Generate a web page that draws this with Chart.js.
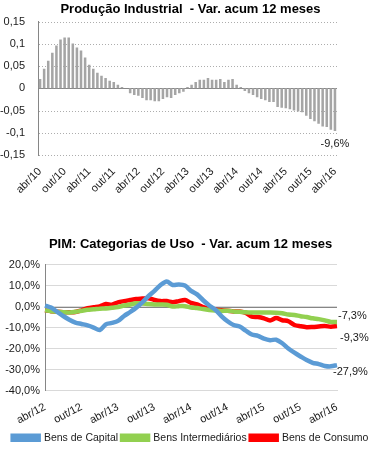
<!DOCTYPE html>
<html><head><meta charset="utf-8">
<script src="https://cdn.jsdelivr.net/npm/chart.js@4.4.1/dist/chart.umd.min.js"></script>
<style>
html,body{margin:0;padding:0;background:#fff;width:381px;height:457px;overflow:hidden}
#c1{position:absolute;left:0;top:0}
#c2{position:absolute;left:0;top:225px}
</style></head><body>
<canvas id="c1" width="381" height="195"></canvas>
<canvas id="c2" width="381" height="232"></canvas>
<script>
// ---------- DATA ----------
const monthNames = ['jan','fev','mar','abr','mai','jun','jul','ago','set','out','nov','dez'];
function monthRange(m0, y0, n){ const out=[]; for(let i=0;i<n;i++){ const m=(m0+i)%12, y=y0+Math.floor((m0+i)/12); out.push(monthNames[m]+'/'+String(y).padStart(2,'0')); } return out; }

// Top chart: abr/10 .. abr/16
const prodCategories = monthRange(3, 10, 73);
const prodValues = [
  0.021,0.044,0.062,0.080,0.096,0.110,0.114,0.114,0.101,0.092,0.085,0.069,
  0.053,0.044,0.035,0.028,0.023,0.017,0.014,0.008,0.003,0.000,-0.011,-0.015,
  -0.017,-0.022,-0.027,-0.027,-0.029,-0.029,-0.024,-0.020,-0.022,-0.015,-0.011,-0.008,
  0.003,0.008,0.014,0.019,0.019,0.023,0.019,0.019,0.021,0.014,0.019,0.021,
  0.008,0.003,-0.006,-0.011,-0.015,-0.020,-0.024,-0.027,-0.031,-0.031,-0.042,-0.044,
  -0.045,-0.047,-0.050,-0.052,-0.054,-0.062,-0.069,-0.074,-0.080,-0.086,-0.087,-0.093,
  -0.096
];
const prodEndLabel = '-9,6%';

// Bottom chart: abr/12 .. abr/16
const pimCategories = monthRange(3, 12, 49);
const bensCapital = [
  0.5,-0.5,-2.5,-4.5,-6.3,-7.6,-8.3,-9.0,-10.0,-11.2,-8.5,-7.8,
  -6.8,-4.5,-2.6,-0.5,2.0,5.0,7.5,10.3,12.0,10.3,10.5,10.0,
  7.5,5.8,3.0,0.5,-1.5,-4.5,-7.0,-8.8,-9.5,-11.5,-13.3,-14.0,
  -15.3,-16.0,-15.8,-17.5,-20.0,-22.0,-23.8,-25.5,-26.8,-27.4,-28.3,-28.5,
  -27.9
];
const bensIntermediarios = [
  -1.8,-2.2,-2.5,-2.7,-2.8,-2.5,-2.0,-1.5,-1.3,-1.0,-0.9,-0.6,
  -0.2,0.5,1.0,1.6,1.5,1.2,1.0,1.0,0.9,0.0,0.2,0.2,
  -0.4,-0.7,-1.2,-1.6,-1.9,-2.1,-2.0,-2.3,-2.5,-2.7,-2.8,-2.8,
  -2.8,-2.8,-2.9,-3.2,-3.8,-4.0,-4.6,-5.0,-5.6,-6.0,-6.6,-7.3,
  -7.3
];
const bensConsumo = [
  -1.8,-2.2,-2.5,-2.7,-2.7,-2.6,-1.8,-0.8,-0.3,0.1,1.2,0.9,
  2.0,2.6,3.1,3.6,3.8,4.0,3.1,2.6,2.6,2.1,2.6,3.1,
  1.8,1.0,-0.3,-1.0,-1.5,-1.8,-2.0,-2.3,-2.4,-3.0,-4.8,-5.0,
  -5.6,-6.6,-5.5,-6.5,-7.0,-8.8,-9.4,-9.8,-9.7,-9.5,-9.3,-9.6,
  -9.3
];
const pimEndLabels = ['-27,9%','-7,3%','-9,3%'];
const seriesNames = ['Bens de Capital','Bens Intermediários','Bens de Consumo'];

// ---------- COMMON ----------
Chart.defaults.font.family = '"Liberation Sans", Arial, sans-serif';
Chart.defaults.color = '#1a1a1a';
Chart.defaults.animation = false;

const zeroLine = {
  id:'zeroLine',
  beforeDatasetsDraw(chart){
    const y = chart.scales.y.getPixelForValue(0), a = chart.chartArea, ctx = chart.ctx;
    ctx.save(); ctx.strokeStyle = '#868686'; ctx.lineWidth = 1;
    ctx.beginPath(); ctx.moveTo(a.left, Math.round(y)+0.5); ctx.lineTo(a.right, Math.round(y)+0.5); ctx.stroke();
    ctx.restore();
  }
};
// dotted horizontal grid (top chart)
const dottedGrid = {
  id:'dottedGrid',
  beforeDatasetsDraw(chart){
    const s = chart.scales.y, a = chart.chartArea, ctx = chart.ctx;
    ctx.save(); ctx.strokeStyle = '#ADADAD'; ctx.lineWidth = 1; ctx.setLineDash([1,2]);
    s.ticks.forEach(t=>{
      if (Math.abs(t.value) < 1e-9) return;
      const y = Math.round(s.getPixelForValue(t.value)) + 0.5;
      ctx.beginPath(); ctx.moveTo(a.left+1, y); ctx.lineTo(a.right, y); ctx.stroke();
    });
    ctx.restore();
  }
};
// invisible right-hand spacer axis (keeps titles/legend centred on full width)
const spacerAxis = (w)=>({ type:'linear', position:'right', display:true, grid:{display:false}, border:{display:false}, ticks:{display:false}, afterFit:s=>{ s.width = w; } });

// ---------- TOP CHART ----------
const endLabelTop = {
  id:'endLabelTop',
  afterDatasetsDraw(chart){
    const meta = chart.getDatasetMeta(0); const last = meta.data[meta.data.length-1];
    const ctx = chart.ctx; ctx.save();
    ctx.font = '11px "Liberation Sans", Arial, sans-serif'; ctx.fillStyle = '#1a1a1a';
    ctx.textAlign = 'center'; ctx.textBaseline = 'middle';
    ctx.fillText(prodEndLabel, last.x, last.y + 13);
    ctx.restore();
  }
};

new Chart(document.getElementById('c1'), {
  type:'bar',
  data:{ labels: prodCategories, datasets:[{ data: prodValues, backgroundColor:'#A5A5A5', barPercentage:0.62, categoryPercentage:1 }]},
  options:{
    responsive:false,
    layout:{ padding:0 },
    plugins:{
      legend:{ display:false }, tooltip:{ enabled:false },
      title:{ display:true, text:'Produção Industrial  - Var. acum 12 meses', font:{ size:13, weight:'bold' }, color:'#000', padding:{ top:2, bottom:4 } }
    },
    scales:{
      x:{
        grid:{ display:false }, border:{ display:false },
        ticks:{ autoSkip:false, maxRotation:45, minRotation:45, font:{ size:11 }, padding:2,
          callback:(v,i)=> i%6===0 ? prodCategories[i] : '' },
        afterFit:s=>{ s.height = 40; }
      },
      y:{
        min:-0.15, max:0.15,
        ticks:{ stepSize:0.05, font:{ size:11 }, padding:5,
          callback:v=> String(Math.round(v*100)/100).replace('.',',') },
        grid:{ display:false },
        border:{ display:true, color:'#868686' },
        afterFit:s=>{ s.width = 38; }
      },
      yR: spacerAxis(44)
    }
  },
  plugins:[dottedGrid, zeroLine, endLabelTop]
});

// ---------- BOTTOM CHART ----------
const endLabelsBottom = {
  id:'endLabelsBottom',
  afterDatasetsDraw(chart){
    const ctx = chart.ctx; ctx.save();
    ctx.font = '11px "Liberation Sans", Arial, sans-serif'; ctx.fillStyle = '#1a1a1a';
    ctx.textAlign = 'left'; ctx.textBaseline = 'middle';
    const offs = [[-4, 7],[1,-6],[3,12]];
    chart.data.datasets.forEach((ds,k)=>{
      const meta = chart.getDatasetMeta(k); const p = meta.data[meta.data.length-1];
      ctx.fillText(pimEndLabels[k], p.x + offs[k][0], p.y + offs[k][1]);
    });
    ctx.restore();
  }
};

const colors = ['#5B9BD5','#92D050','#FF0000'];
new Chart(document.getElementById('c2'), {
  type:'line',
  data:{ labels: pimCategories, datasets:[
    { label:seriesNames[0], data:bensCapital, borderColor:colors[0], backgroundColor:colors[0], borderWidth:4.5, pointRadius:0, tension:0.3 },
    { label:seriesNames[1], data:bensIntermediarios, borderColor:colors[1], backgroundColor:colors[1], borderWidth:4.5, pointRadius:0, tension:0.3 },
    { label:seriesNames[2], data:bensConsumo, borderColor:colors[2], backgroundColor:colors[2], borderWidth:4.5, pointRadius:0, tension:0.3 }
  ]},
  options:{
    responsive:false,
    layout:{ padding:{ left:0, right:0, top:0, bottom:4 } },
    plugins:{
      tooltip:{ enabled:false },
      title:{ display:true, text:'PIM: Categorias de Uso  - Var. acum 12 meses', font:{ size:13, weight:'bold' }, color:'#000', padding:{ top:12, bottom:12 } },
      legend:{ position:'bottom', labels:{ boxWidth:26, boxHeight:4, font:{ size:10.5 }, color:'#1a1a1a', padding:4 } }
    },
    scales:{
      x:{
        grid:{ display:false }, border:{ display:true, color:'#D9D9D9' },
        ticks:{ autoSkip:false, maxRotation:28, minRotation:28, font:{ size:11 }, padding:2,
          callback:(v,i)=> i%6===0 ? pimCategories[i] : '' },
        afterFit:s=>{ s.height = 38; }
      },
      y:{
        min:-40, max:20,
        ticks:{ stepSize:10, font:{ size:11 }, padding:5,
          callback:v=> v.toFixed(1).replace('.',',')+'%' },
        grid:{ color:'#D9D9D9', drawTicks:false },
        border:{ display:true, color:'#868686' },
        afterFit:s=>{ s.width = 45; }
      },
      yR: spacerAxis(44)
    }
  },
  plugins:[zeroLine, endLabelsBottom]
});
</script>
</body></html>
